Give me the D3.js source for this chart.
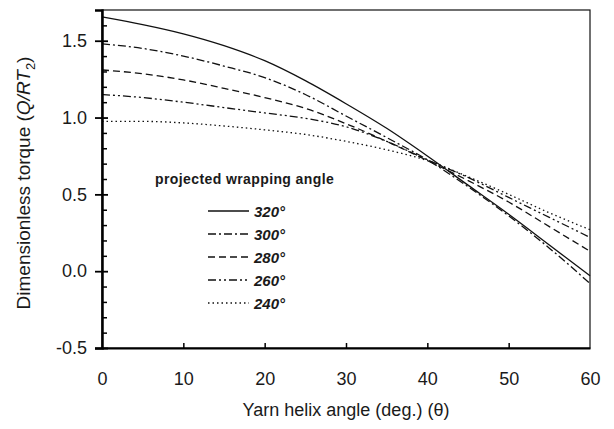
<!DOCTYPE html>
<html>
<head>
<meta charset="utf-8">
<script src="https://cdn.jsdelivr.net/npm/d3@7"></script>
<style>
  body { margin: 0; background: #fff; }
  text { font-family: "Liberation Sans", Arial, sans-serif; fill: #1a1a1a; }
</style>
</head>
<body>
<script>

  const width = 614,
        height = 429

  const margin = {left: 102, top: 10, right: 24, bottom: 81}
  const w = width - margin.left - margin.right,
        h = height - margin.top - margin.bottom

  // helix angle (deg.)
  const theta = [0, 5, 10, 15, 20, 25, 30, 35, 40, 45, 50, 55, 60]

  // dimensionless torque for each projected wrapping angle
  const torque320 = [1.655, 1.605, 1.545, 1.468, 1.37, 1.24, 1.09, 0.93, 0.75, 0.56, 0.37, 0.17, -0.03]
  const torque300 = [1.48, 1.45, 1.40, 1.335, 1.26, 1.15, 1.01, 0.87, 0.725, 0.55, 0.36, 0.15, -0.08]
  const torque280 = [1.31, 1.285, 1.245, 1.19, 1.13, 1.06, 0.96, 0.845, 0.72, 0.59, 0.45, 0.29, 0.13]
  const torque260 = [1.15, 1.13, 1.10, 1.065, 1.03, 0.995, 0.94, 0.845, 0.725, 0.61, 0.48, 0.35, 0.22]
  const torque240 = [0.975, 0.975, 0.965, 0.945, 0.92, 0.89, 0.845, 0.79, 0.72, 0.615, 0.5, 0.38, 0.27]

  const seriesNames = ["320°", "300°", "280°", "260°", "240°"]
  const seriesValues = [torque320, torque300, torque280, torque260, torque240]
  const dashes = [null, "8,3,2,3", "7,4", "8,3,2,3,2,3", "1.5,3"]

  const xTicks = [0, 10, 20, 30, 40, 50, 60]
  const yTicks = [-0.5, 0, 0.5, 1.0, 1.5]
  const yMinor = [-0.4, -0.3, -0.2, -0.1, 0.1, 0.2, 0.3, 0.4, 0.6, 0.7, 0.8, 0.9, 1.1, 1.2, 1.3, 1.4, 1.6]

  const xScale = d3.scaleLinear()
    .domain([0, 60])
    .range([0, w])

  const yScale = d3.scaleLinear()
    .domain([-0.5, 1.7])
    .range([h, 0])

  const svg = d3.select("body")
    .append("svg")
      .attr("width", width)
      .attr("height", height)

  const chart = svg.append("g")
      .attr("transform", `translate(${margin.left}, ${margin.top})`)

  // frame
  chart.append("rect")
    .attr("x", 0).attr("y", 0)
    .attr("width", w).attr("height", h)
    .attr("fill", "none")
    .attr("stroke", "#111")
    .attr("stroke-width", 1.2)

  const line = d3.line()
    .x((d, i) => xScale(theta[i]))
    .y(d => yScale(d))
    .curve(d3.curveMonotoneX)

  chart.selectAll(".curve")
    .data(seriesValues)
    .enter()
    .append("path")
      .attr("class", "curve")
      .attr("d", d => line(d))
      .attr("fill", "none")
      .attr("stroke", "#111")
      .attr("stroke-width", 1.3)
      .attr("stroke-dasharray", (d, i) => dashes[i])

  // x axis
  const gx = chart.append("g")
    .attr("transform", `translate(0, ${h})`)
    .call(d3.axisBottom(xScale).tickValues(xTicks).tickSize(0).tickPadding(24))
  gx.select(".domain").attr("stroke-width", 2.2)
  gx.selectAll("text").style("font-size", "18px")

  chart.append("g")
    .attr("transform", `translate(0, ${h})`)
    .call(d3.axisTop(xScale).tickValues(xTicks.slice(1, -1)).tickSize(5).tickFormat(""))
    .call(g => g.select(".domain").remove())
    .selectAll("line").attr("stroke-width", 1.5)

  // y axis
  const gy = chart.append("g")
    .call(d3.axisLeft(yScale).tickValues(yTicks).tickSize(7).tickPadding(8).tickFormat(d => d.toFixed(1)))
  gy.select(".domain").attr("stroke-width", 2.5)
  gy.selectAll("line").attr("stroke-width", 1.8)
  gy.selectAll("text").style("font-size", "18px")

  chart.append("g")
    .call(d3.axisRight(yScale).tickValues(yTicks).tickSize(6).tickFormat(""))
    .call(g => g.select(".domain").remove())
    .selectAll("line").attr("stroke-width", 1.8)

  chart.append("g")
    .call(d3.axisRight(yScale).tickValues(yMinor).tickSize(5).tickFormat(""))
    .call(g => g.select(".domain").remove())
    .selectAll("line").attr("stroke-width", 1.5)

  // axis titles
  svg.append("text")
    .attr("x", margin.left + w / 2)
    .attr("y", 416)
    .style("text-anchor", "middle")
    .style("font-size", "18px")
    .text("Yarn helix angle (deg.) (θ)")

  const yTitle = svg.append("text")
    .attr("transform", `translate(30, ${margin.top + h / 2 + 4}) rotate(-90)`)
    .style("text-anchor", "middle")
    .style("font-size", "19px")
  yTitle.append("tspan").text("Dimensionless torque (")
  yTitle.append("tspan").style("font-style", "italic").text("Q/RT")
  yTitle.append("tspan").attr("dy", 5).style("font-size", "13px").text("2")
  yTitle.append("tspan").attr("dy", -5).text(")")

  // legend
  const legend = svg.append("g")

  legend.append("text")
    .attr("x", 155)
    .attr("y", 184)
    .style("font-size", "14px")
    .style("font-weight", "bold")
    .style("letter-spacing", "0.4px")
    .text("projected wrapping angle")

  const rows = legend.selectAll(".row")
    .data(seriesNames)
    .enter()
    .append("g")
      .attr("class", "row")
      .attr("transform", (d, i) => `translate(208, ${211 + i * 23})`)

  rows.append("line")
    .attr("x1", 0).attr("x2", 41)
    .attr("stroke", "#111")
    .attr("stroke-width", 1.3)
    .attr("stroke-dasharray", (d, i) => dashes[i])

  rows.append("text")
    .attr("x", 46)
    .attr("y", 6)
    .style("font-size", "15px")
    .style("font-weight", "bold")
    .style("font-style", "italic")
    .text(d => d)

</script>
</body>
</html>
